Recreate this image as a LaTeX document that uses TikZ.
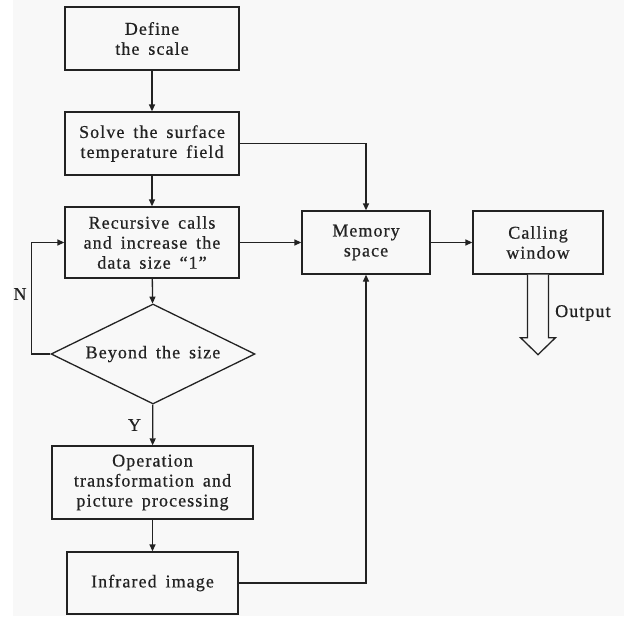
\documentclass[tikz,border=0pt]{standalone}
\usepackage{fontspec}
\setmainfont[LetterSpace=6,WordSpace=1.6,FakeBold=0.6]{Liberation Serif}
\usetikzlibrary{shapes.geometric,arrows.meta,calc}
\definecolor{ink}{RGB}{34,34,34}
\definecolor{bg}{RGB}{248,248,248}
\begin{document}
\begin{tikzpicture}[x=1pt,y=-1pt,
  font=\fontsize{18}{20}\selectfont,
  every node/.style={text=ink},
  box/.style={draw=ink,line width=1.3pt,rectangle,align=center,inner sep=0pt},
  arr/.style={draw=ink,line width=1.3pt,-{Triangle[length=7pt,width=6pt]}},
  ln/.style={draw=ink,line width=1.3pt}]
\fill[white] (0,0) rectangle (624,616);
\fill[bg] (13,0) rectangle (624,616);
\useasboundingbox (0,0) rectangle (624,616);
\node[box,minimum width=174pt,minimum height=63pt] (b1) at (152,38.5) {Define\\the scale};
\node[box,minimum width=174pt,minimum height=63pt] (b2) at (152,143.5) {Solve the surface\\temperature field};
\node[box,minimum width=174pt,minimum height=71pt] (b3) at (152,242.5) {Recursive calls\\and increase the\\data size “1”};
\node[box,minimum width=128pt,minimum height=63pt] (mem) at (366,242.5) {Memory\\space};
\node[box,minimum width=130pt,minimum height=63pt] (call) at (538,242.5) {Calling\\window};
\node[box,shape=diamond,aspect=2.04,minimum width=204pt,minimum height=100pt] (dec) at (153,354) {Beyond the size};
\node[box,minimum width=201pt,minimum height=73pt] (op) at (152.5,482.5) {Operation\\transformation and\\picture processing};
\node[box,minimum width=171pt,minimum height=62pt] (ir) at (152.5,583) {Infrared image};
\node (nlab) at (20,294) {N};
\node (ylab) at (134.5,425) {Y};
\node[anchor=west,inner sep=0pt] (outlab) at (555,313) {Output};
\draw[arr] (b1) -- (b2);
\draw[arr] (b2) -- (b3);
\draw[arr] (b3) -- (dec);
\draw[arr] (dec) -- (op);
\draw[arr] (op) -- (ir);
\draw[arr] (b2.east) -| (mem.north);
\draw[arr] (b3.east) -- (mem.west);
\draw[arr] (mem.east) -- (call.west);
\draw[arr] (ir.east) -| (mem.south);
\coordinate (nturn) at ($(dec.west)+(-19,0)$);
\draw[arr] (dec.west) -- (nturn) |- (b3.west);
\draw[ln,line join=miter,fill=bg] ($(call.south)+(-10.5,0)$) -- ++(0,63) -- ++(-7,0) -- ($(call.south)+(0,80)$) -- ($(call.south)+(17.5,63)$) -- ++(-7,0) -- ($(call.south)+(10.5,0)$);
\end{tikzpicture}
\end{document}
